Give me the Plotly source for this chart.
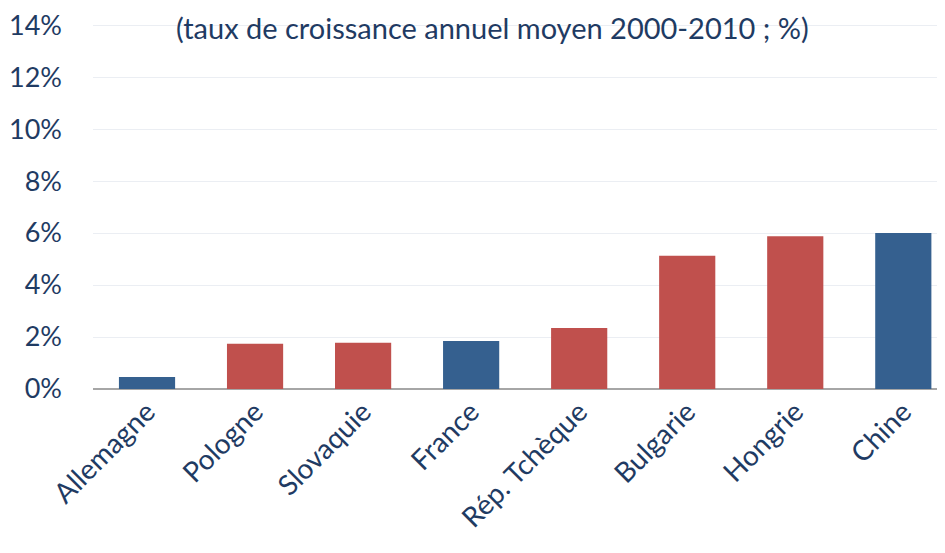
import plotly.graph_objects as go

categories = ["Allemagne", "Pologne", "Slovaquie", "France", "Rép. Tchèque", "Bulgarie", "Hongrie", "Chine"]
values = [0.46, 1.74, 1.78, 1.85, 2.35, 5.13, 5.88, 6.0]
bar_colors = ["#35608f", "#c0504d", "#c0504d", "#35608f", "#c0504d", "#c0504d", "#c0504d", "#35608f"]
y_ticks = [0, 2, 4, 6, 8, 10, 12, 14]
y_tick_labels = ["0%", "2%", "4%", "6%", "8%", "10%", "12%", "14%"]
title_text = "(taux de croissance annuel moyen 2000-2010 ; %)"

FONT = "Lato, 'Open Sans', sans-serif"
TXT = "#1f3b63"

fig = go.Figure(go.Bar(
    x=list(range(len(categories))), y=values,
    marker=dict(color=bar_colors, line=dict(width=0)),
    width=0.52,
))

fig.update_layout(
    width=945, height=553,
    margin=dict(l=85, r=0, t=15, b=172),
    paper_bgcolor="white", plot_bgcolor="white",
    showlegend=False,
    font=dict(family=FONT, color=TXT, size=28),
    xaxis=dict(
        tickmode="array", tickvals=list(range(len(categories))), ticktext=categories,
        range=[-0.5, 7.46], tickangle=-45, showgrid=False, zeroline=False,
        showline=False, tickfont=dict(size=28, color=TXT), fixedrange=True,
        automargin=False, ticklabeloverflow="allow",
    ),
    yaxis=dict(
        tickmode="array", tickvals=y_ticks, ticktext=y_tick_labels,
        range=[0, 14.08], showgrid=True, gridcolor="#ebeef3", gridwidth=1,
        zeroline=True, zerolinecolor="#a6a6a6", zerolinewidth=2,
        showline=False, tickfont=dict(size=27, color=TXT),
        ticklabelstandoff=30, automargin=False, ticklabeloverflow="allow",
    ),
    annotations=[dict(
        text=title_text, xref="paper", yref="paper", x=0.465, y=1.0 - 4 / 366,
        xanchor="center", yanchor="middle", showarrow=False,
        font=dict(size=29, color=TXT, family=FONT),
    )],
)

fig.write_html("out.html")
